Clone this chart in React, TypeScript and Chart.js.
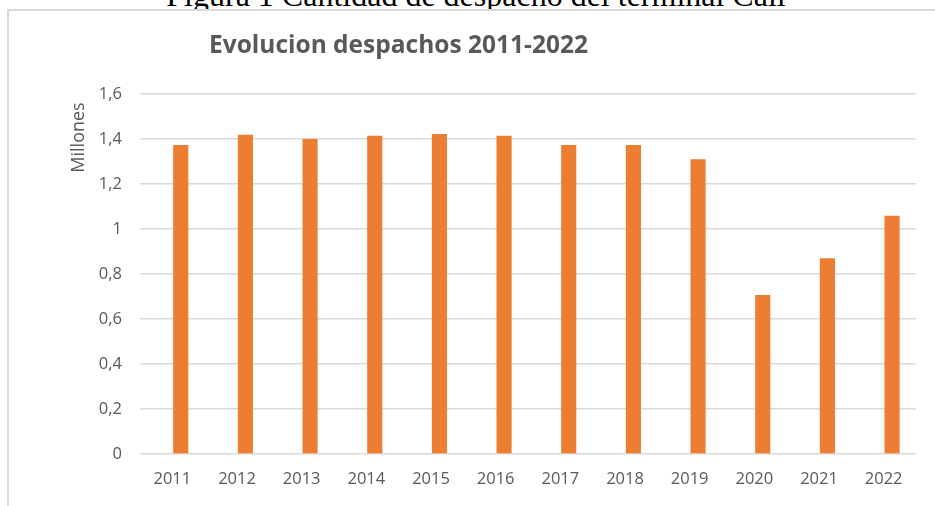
import React, { useEffect, useRef } from "react";
import { Chart, registerables } from "chart.js";

Chart.register(...registerables);

const years = ["2011", "2012", "2013", "2014", "2015", "2016", "2017", "2018", "2019", "2020", "2021", "2022"];
const despachos = [1.373, 1.419, 1.4, 1.415, 1.422, 1.415, 1.373, 1.373, 1.31, 0.707, 0.87, 1.059];
const serieVacia = [null, null, null, null, null, null, null, null, null, null, null, null];
const yMin = 0;
const yMax = 1.6;
const yStep = 0.2;
const chartTitle = "Evolucion despachos 2011-2022";
const axisTitle = "Millones";
const caption = "Figura 1 Cantidad de despacho del terminal Cali";

const textColor = "#595959";
const gridColor = "#d9d9d9";
const barColor = "#ED7D31";

const overlayPlugin = {
  id: "overlayText",
  afterDraw(chart: any) {
    const ctx = chart.ctx;
    ctx.save();
    ctx.fillStyle = textColor;
    ctx.font = "bold 24.5px 'Open Sans'";
    ctx.textAlign = "left";
    ctx.textBaseline = "alphabetic";
    ctx.fillText(chartTitle, 209, 52.5);
    ctx.translate(79, 137.5);
    ctx.rotate(-Math.PI / 2);
    ctx.font = "18px 'Open Sans'";
    ctx.textAlign = "center";
    ctx.textBaseline = "middle";
    ctx.fillText(axisTitle, 0, 0);
    ctx.restore();
  },
};

export default function App() {
  const ref = useRef<HTMLCanvasElement | null>(null);

  useEffect(() => {
    if (!ref.current) return;
    const chart = new Chart(ref.current, {
      type: "bar",
      data: {
        labels: years,
        datasets: [
          { label: "", data: serieVacia as any, backgroundColor: "rgba(0,0,0,0)" },
          { label: "Despachos", data: despachos, backgroundColor: barColor },
        ],
      },
      options: {
        responsive: false,
        animation: false,
        events: [],
        datasets: { bar: { categoryPercentage: 0.52, barPercentage: 0.9 } } as any,
        layout: { padding: { left: 0, top: 94, right: 19, bottom: 0 } },
        plugins: { legend: { display: false }, tooltip: { enabled: false }, title: { display: false } },
        scales: {
          x: {
            grid: { display: false, drawTicks: false },
            border: { display: false },
            ticks: { color: textColor, font: { family: "'Open Sans'", size: 16.5 }, padding: 15, maxRotation: 0 },
            afterFit: (s: any) => { s.height = 52; },
          },
          y: {
            min: yMin,
            max: yMax,
            grid: { color: gridColor, lineWidth: 1.5, drawTicks: false },
            border: { display: false },
            ticks: {
              stepSize: yStep,
              color: textColor,
              font: { family: "'Open Sans'", size: 16.5 },
              padding: 18,
              callback: (v: any) => String(Math.round(Number(v) * 10) / 10).replace(".", ","),
            },
            afterFit: (s: any) => { s.width = 140; },
          },
        },
      },
      plugins: [overlayPlugin],
    });
    return () => chart.destroy();
  }, []);

  return (
    <div style={{ position: "fixed", left: 0, top: 0, width: 935, height: 506, overflow: "hidden", background: "#fff" }}>
      <div
        style={{
          position: "absolute",
          left: 0,
          top: -20.8,
          width: 952,
          textAlign: "center",
          fontFamily: "'Liberation Serif', 'Times New Roman', serif",
          fontSize: 32,
          lineHeight: "32px",
          color: "#000",
          whiteSpace: "nowrap",
        }}
      >
        {caption}
      </div>
      <div
        style={{
          position: "absolute",
          left: 7,
          top: 9,
          width: 1000,
          height: 600,
          borderLeft: `2px solid ${gridColor}`,
          borderTop: `2px solid ${gridColor}`,
          background: "#fff",
        }}
      />
      <canvas ref={ref} width={935} height={506} style={{ position: "absolute", left: 0, top: 0 }} />
    </div>
  );
}
